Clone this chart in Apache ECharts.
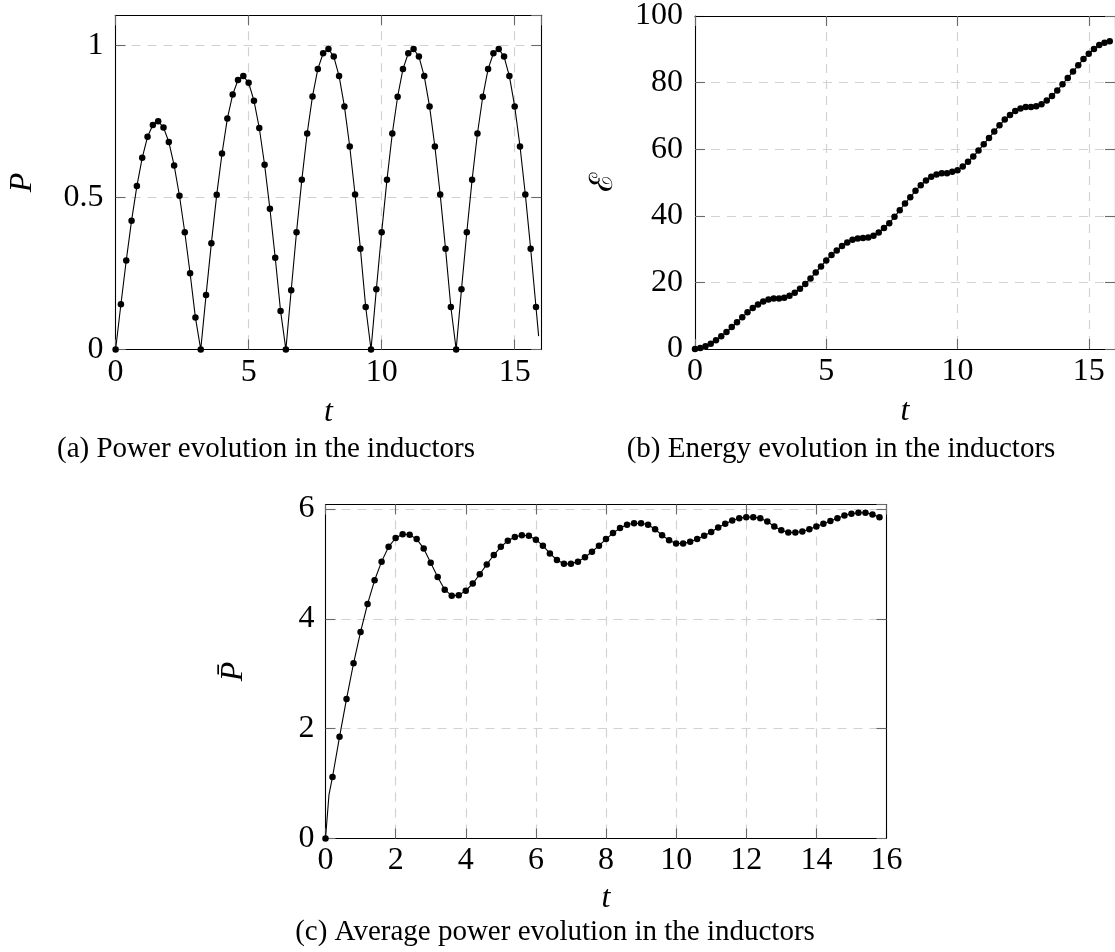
<!DOCTYPE html>
<html>
<head>
<meta charset="utf-8">
<script src="https://cdn.jsdelivr.net/npm/echarts@6/dist/echarts.min.js"></script>
<style>
html,body{margin:0;padding:0;background:#fff;}
#chart{width:1115px;height:952px;}
</style>
</head>
<body>
<div id="chart"></div>
<script>
// ---- data ----
const tValues = [
  0, 0.2, 0.4, 0.6, 0.8, 1.0, 1.2, 1.4, 1.6, 1.8, 2.0, 2.2, 2.4, 2.6, 2.8, 3.0,
  3.2, 3.4, 3.6, 3.8, 4.0, 4.2, 4.4, 4.6, 4.8, 5.0, 5.2, 5.4, 5.6, 5.8, 6.0, 6.2,
  6.4, 6.6, 6.8, 7.0, 7.2, 7.4, 7.6, 7.8, 8.0, 8.2, 8.4, 8.6, 8.8, 9.0, 9.2, 9.4,
  9.6, 9.8, 10.0, 10.2, 10.4, 10.6, 10.8, 11.0, 11.2, 11.4, 11.6, 11.8, 12.0, 12.2, 12.4, 12.6,
  12.8, 13.0, 13.2, 13.4, 13.6, 13.8, 14.0, 14.2, 14.4, 14.6, 14.8, 15.0, 15.2, 15.4, 15.6, 15.8
];
const powerValues = [
  0, 0.149, 0.293, 0.424, 0.538, 0.631, 0.700, 0.739, 0.751, 0.731, 0.683, 0.606, 0.506, 0.386, 0.251, 0.105,
  0, 0.179, 0.350, 0.509, 0.645, 0.760, 0.839, 0.887, 0.900, 0.878, 0.819, 0.729, 0.608, 0.463, 0.302, 0.127,
  0, 0.195, 0.386, 0.559, 0.711, 0.833, 0.923, 0.975, 0.989, 0.964, 0.900, 0.800, 0.668, 0.510, 0.332, 0.140,
  0, 0.198, 0.386, 0.559, 0.711, 0.832, 0.923, 0.975, 0.989, 0.964, 0.900, 0.800, 0.668, 0.510, 0.332, 0.140,
  0, 0.198, 0.386, 0.559, 0.711, 0.832, 0.923, 0.975, 0.989, 0.964, 0.900, 0.800, 0.668, 0.510, 0.332, 0.140
];
const powerLineEnd = [15.9, 0.044];   // end of the line, no mark
const energyValues = [
  0, 0.3, 0.8, 1.6, 2.6, 3.8, 5.1, 6.6, 8.0, 9.5, 11.0, 12.3, 13.4, 14.3, 14.9, 15.2,
  15.2, 15.4, 16.0, 16.9, 18.1, 19.5, 21.2, 23.0, 24.8, 26.6, 28.2, 29.6, 30.9, 32.0, 32.8, 33.2,
  33.3, 33.5, 34.0, 35.0, 36.3, 37.8, 39.7, 41.7, 43.7, 45.6, 47.5, 49.2, 50.6, 51.7, 52.4, 52.8,
  52.8, 53.2, 53.7, 54.8, 56.2, 57.8, 59.6, 61.5, 63.4, 65.3, 67.2, 68.9, 70.3, 71.5, 72.2, 72.7,
  72.7, 72.9, 73.5, 74.6, 76.0, 77.6, 79.5, 81.4, 83.3, 85.2, 87.1, 88.7, 90.1, 91.3, 92.0, 92.4
];
const avgPowerValues = [
  0, 1.12, 1.85, 2.54, 3.19, 3.76, 4.27, 4.70, 5.04, 5.31, 5.47, 5.54, 5.53, 5.45, 5.28, 5.02,
  4.76, 4.53, 4.42, 4.43, 4.51, 4.64, 4.81, 4.99, 5.16, 5.31, 5.42, 5.49, 5.52, 5.51, 5.44, 5.33,
  5.19, 5.07, 5.00, 5.00, 5.04, 5.12, 5.22, 5.33, 5.45, 5.56, 5.65, 5.71, 5.74, 5.74, 5.71, 5.63,
  5.52, 5.43, 5.37, 5.37, 5.40, 5.45, 5.51, 5.58, 5.66, 5.73, 5.79, 5.83, 5.85, 5.85, 5.83, 5.77,
  5.68, 5.61, 5.57, 5.57, 5.59, 5.63, 5.68, 5.73, 5.78, 5.83, 5.88, 5.91, 5.93, 5.93, 5.90, 5.85
];
const avgPowerLineStart = [0.1, 0.80]; // steep start of the line, no mark

const ticksXTop = [0, 5, 10, 15];
const ticksYPower = [0, 0.5, 1];
const ticksYEnergy = [0, 20, 40, 60, 80, 100];
const ticksXAvg = [0, 2, 4, 6, 8, 10, 12, 14, 16];
const ticksYAvg = [0, 2, 4, 6];

const captions = [
  '(a) Power evolution in the inductors',
  '(b) Energy evolution in the inductors',
  '(c) Average power evolution in the inductors'
];

// ---- styling ----
const FONT = '"Liberation Serif", "DejaVu Serif", serif';
const TICK_FS = 32;
const frameLine = {show: true, onZero: false, lineStyle: {color: '#000', width: 1.1}};
const tickStyle = {show: true, inside: true, length: 10, lineStyle: {color: '#6a6a6a', width: 1.1}};
const gridLine = {show: true, showMinLine: false, showMaxLine: false,
  lineStyle: {color: '#d2d2d2', width: 1.2, type: [9, 7]}};

function step(arr) { return arr[1] - arr[0]; }

function mainX(gi, max, ticks, nameGap, margin, showMax) {
  return {
    type: 'value', gridIndex: gi, min: 0, max: max, interval: step(ticks), position: 'bottom',
    name: 't', nameLocation: 'middle', nameGap: nameGap,
    nameTextStyle: {fontFamily: FONT, fontStyle: 'italic', fontSize: TICK_FS, color: '#000'},
    axisLine: frameLine, axisTick: tickStyle,
    axisLabel: {margin: margin, fontFamily: FONT, fontSize: TICK_FS, color: '#000',
      showMaxLabel: showMax, showMinLabel: true},
    splitLine: gridLine
  };
}
function mirrorX(gi, max, ticks) {
  return {
    type: 'value', gridIndex: gi, min: 0, max: max, interval: step(ticks), position: 'top', z: 3,
    axisLine: frameLine, axisTick: tickStyle, axisLabel: {show: false}, splitLine: {show: false}
  };
}
function mainY(gi, max, ticks, name, italic, nameGap, margin, showMax) {
  return {
    type: 'value', gridIndex: gi, min: 0, max: max, interval: step(ticks), position: 'left',
    name: name, nameLocation: 'middle', nameGap: nameGap, nameRotate: 90,
    nameTextStyle: {fontFamily: FONT, fontStyle: italic ? 'italic' : 'normal', fontSize: TICK_FS, color: '#000'},
    axisLine: frameLine, axisTick: tickStyle,
    axisLabel: {margin: margin, fontFamily: FONT, fontSize: TICK_FS, color: '#000',
      showMaxLabel: showMax, showMinLabel: true},
    splitLine: gridLine
  };
}
function mirrorY(gi, max, ticks) {
  return {
    type: 'value', gridIndex: gi, min: 0, max: max, interval: step(ticks), position: 'right', z: 3,
    axisLine: frameLine, axisTick: tickStyle, axisLabel: {show: false}, splitLine: {show: false}
  };
}
function lineSeries(ai, data) {
  return {
    type: 'line', xAxisIndex: ai, yAxisIndex: ai, data: data,
    symbol: 'circle', symbolSize: 6.5, showSymbol: true, showAllSymbol: true,
    itemStyle: {color: '#000'}, lineStyle: {color: '#000', width: 1.1},
    z: 4, silent: true, animation: false
  };
}

const powerData = tValues.map((t, i) => [t, powerValues[i]]);
powerData.push({value: powerLineEnd, symbolSize: 0});
const energyData = tValues.map((t, i) => [t, energyValues[i]]);
const avgData = tValues.map((t, i) => [t, avgPowerValues[i]]);
avgData.splice(1, 0, {value: avgPowerLineStart, symbolSize: 0});

const option = {
  backgroundColor: '#fff',
  animation: false,
  grid: [
    {left: 115.6, top: 15.3, width: 425.7, height: 334.2, show: false},
    {left: 695, top: 15.7, width: 424.8, height: 333.3, show: false},
    {left: 325.5, top: 504.5, width: 561, height: 334, show: false}
  ],
  xAxis: [
    mainX(0, 16, ticksXTop, 47, 7, false), mirrorX(0, 16, ticksXTop),
    mainX(1, 16, ticksXTop, 47, 7, false), mirrorX(1, 16, ticksXTop),
    mainX(2, 16, ticksXAvg, 44, 6, true), mirrorX(2, 16, ticksXAvg)
  ],
  yAxis: [
    mainY(0, 1.1, ticksYPower, 'P', true, 77, 12, false), mirrorY(0, 1.1, ticksYPower),
    mainY(1, 100, ticksYEnergy, '\u2130', false, 75, 12, true), mirrorY(1, 100, ticksYEnergy),
    mainY(2, 6.08, ticksYAvg, 'P\u0304', true, 76, 11, false), mirrorY(2, 6.08, ticksYAvg)
  ],
  series: [
    lineSeries(0, powerData),
    lineSeries(2, energyData),
    lineSeries(4, avgData)
  ],
  graphic: [
    {type: 'text', x: 266, y: 449, style: {text: captions[0], font: '29px ' + FONT, fill: '#000', align: 'center', verticalAlign: 'middle'}},
    {type: 'text', x: 841, y: 449, style: {text: captions[1], font: '29px ' + FONT, fill: '#000', align: 'center', verticalAlign: 'middle'}},
    {type: 'text', x: 555, y: 932, style: {text: captions[2], font: '29px ' + FONT, fill: '#000', align: 'center', verticalAlign: 'middle'}}
  ]
};

const chart = echarts.init(document.getElementById('chart'), null, {renderer: 'canvas'});
chart.setOption(option);
</script>
</body>
</html>
